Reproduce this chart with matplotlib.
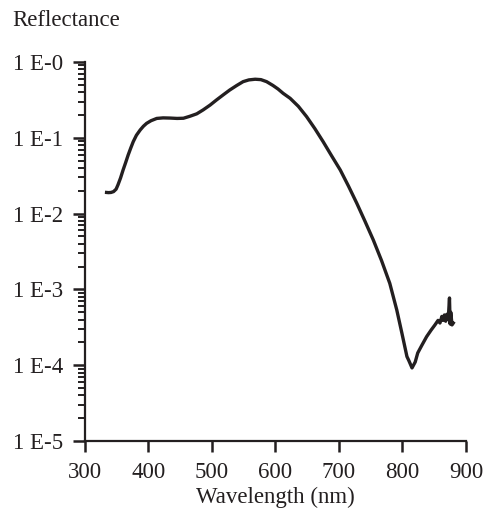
import matplotlib.pyplot as plt
import matplotlib.ticker as mticker
import numpy as np

plt.rcParams['font.family'] = ['Liberation Serif', 'DejaVu Serif']

# spectrum
wavelength = [334, 337, 341, 345, 349, 352, 356, 360, 364, 368, 372, 376, 381,
              387, 392, 397, 404, 413, 423, 434, 445, 455, 465, 476, 486, 497,
              507, 518, 528, 539, 549, 558, 568, 577, 586, 596, 604, 612, 623,
              636, 649, 662, 675, 688, 702, 715, 728, 741, 754, 767, 780, 791,
              799, 807, 810, 815, 820, 824, 830, 838, 845, 851, 856, 859, 862,
              864, 866, 868, 870, 872, 874, 875, 876, 878, 880]
reflectance = [0.0190, 0.0189, 0.0190, 0.0195, 0.0210, 0.0240, 0.0295, 0.0376,
               0.0470, 0.0593, 0.0730, 0.0889, 0.108, 0.127, 0.142, 0.155,
               0.168, 0.180, 0.183, 0.182, 0.180, 0.181, 0.192, 0.207, 0.233,
               0.270, 0.315, 0.370, 0.427, 0.490, 0.550, 0.580, 0.592, 0.585,
               0.550, 0.490, 0.440, 0.386, 0.332, 0.260, 0.190, 0.132, 0.0889,
               0.0585, 0.0376, 0.0230, 0.0137, 0.0079, 0.00449, 0.00240,
               0.00120, 5.35e-4, 2.66e-4, 1.30e-4, 1.15e-4, 9.2e-5, 1.1e-4,
               1.45e-4, 1.8e-4, 2.38e-4, 2.9e-4, 3.39e-4, 3.9e-4, 3.6e-4,
               4.4e-4, 3.9e-4, 4.6e-4, 3.8e-4, 4.7e-4, 4.0e-4, 7.7e-4, 3.5e-4,
               5.0e-4, 3.4e-4, 3.6e-4]

x_ticks = [300, 400, 500, 600, 700, 800, 900]
y_ticks = [1e-5, 1e-4, 1e-3, 1e-2, 1e-1, 1e0]
y_labels = ['1 E-5', '1 E-4', '1 E-3', '1 E-2', '1 E-1', '1 E-0']

fig = plt.figure(figsize=(4.84, 5.08), dpi=100)
ax = fig.add_axes([0.1756, 0.1319, 0.7872, 0.7461])

ax.plot(wavelength, reflectance, color='#231f20', lw=2.4,
        solid_joinstyle='round')

ax.set_yscale('log')
ax.set_xlim(300, 900)
ax.set_ylim(1e-5, 1e0)
ax.set_xticks(x_ticks)
ax.set_xticklabels([str(v) for v in x_ticks])
ax.set_yticks(y_ticks)
ax.set_yticklabels(y_labels)
ax.yaxis.set_minor_locator(mticker.LogLocator(base=10, subs=np.arange(2, 10)))
ax.yaxis.set_minor_formatter(mticker.NullFormatter())

for s in ['top', 'right']:
    ax.spines[s].set_visible(False)
for s in ['left', 'bottom']:
    ax.spines[s].set_linewidth(1.6)
    ax.spines[s].set_color('#231f20')

ax.tick_params(axis='both', which='major', direction='out', width=1.8,
               color='#231f20', labelsize=16.5, labelcolor='#231f20')
ax.tick_params(axis='x', which='major', length=8, pad=7)
ax.tick_params(axis='y', which='major', length=9, pad=7)
ax.tick_params(axis='y', which='minor', direction='out', length=5, width=1.4,
               color='#231f20')

ax.set_xlabel('Wavelength (nm)', fontsize=16.5, color='#231f20', labelpad=3)
fig.text(0.026, 0.96, 'Reflectance', fontsize=16.5, color='#231f20',
         ha='left', va='center')

fig.savefig('out.png', dpi=100)
